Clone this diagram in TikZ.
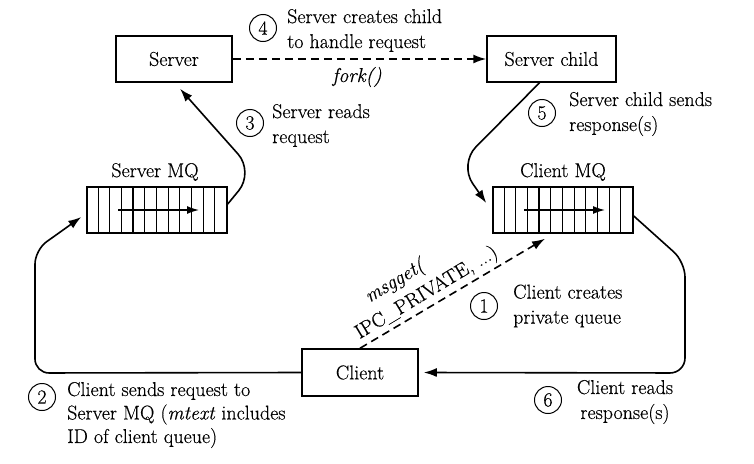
\documentclass[tikz,border=0pt]{standalone}
\usepackage{fontspec}
\setmainfont{Latin Modern Roman}[FakeBold=0.35]
\usetikzlibrary{arrows.meta,calc}
\begin{document}
\begin{tikzpicture}[x=1pt,y=-1pt,
  every node/.style={font=\fontsize{20}{25}\selectfont},
  box/.style={draw,line width=1.5pt,minimum height=46pt,inner sep=0pt},
  num/.style={draw,circle,line width=1pt,minimum size=27pt,inner sep=0pt},
  lbl/.style={align=left,anchor=west,inner sep=0pt},
  conn/.style={line width=1.6pt,-{Latex[length=13pt,width=9pt]}},
  dconn/.style={conn,dash pattern=on 8pt off 5pt},
  qbox/.style={draw,line width=1.5pt,minimum width=140pt,minimum height=46pt,inner sep=0pt},
  cell/.style={line width=0.7pt},
  qarrow/.style={line width=1.4pt,-{Latex[length=12pt,width=8pt]}},
]
\useasboundingbox (0,0) rectangle (754,463);

% boxes
\node[box,minimum width=116pt] (server) at (174,59) {Server};
\node[box,minimum width=129pt] (child) at (551.5,59) {Server child};
\node[box,minimum width=116pt,minimum height=47pt] (client) at (360,372.5) {Client};

% queues
\node[qbox] (smq) at (157,210) {};
\node[qbox] (cmq) at (563,210) {};
\foreach \q in {smq,cmq}{
  \foreach \i in {1,...,11}{
    \draw[cell] ($(\q.north west)+(\i*140/12,0)$) -- ($(\q.south west)+(\i*140/12,0)$);
  }
  \draw[line width=1.4pt] ($(\q.north west)+(4*140/12,0)$) -- ($(\q.south west)+(4*140/12,0)$);
  \draw[qarrow] ($(\q.center)+(-39,0)$) -- ($(\q.center)+(42,0)$);
}
\node (smql) at (155,172) {Server MQ};
\node (cmql) at (563,172) {Client MQ};

% connectors
\draw[dconn] (server.east) -- (child.west);
\node (fork) at (357,77) {\textit{fork()}};

\draw[conn,rounded corners=24pt] ($(smq.east)+(0,-6)$) -- (254,172) -- ($(server.south)+(6,6)$);
\draw[conn,rounded corners=24pt] ($(child.south)+(-12,0)$) -- (459,164) -- ($(cmq.west)+(-6,-7)$);
\draw[dconn] (client.north) -- ($(cmq.south)+(-18,5)$);
\draw[conn,rounded corners=14pt] (client.west) -- (35,373) -- (35,250) -- ($(smq.west)+(-5,7)$);
\draw[conn,rounded corners=15pt] ($(cmq.east)+(0,6)$) -- (685,262) -- (685,373) -- ($(client.east)+(5,0)$);

\node[rotate=31,inner sep=0pt,align=left,font=\fontsize{20}{26}\selectfont] (ipc) at (420,282)
  {\hspace*{27pt}\textit{msgget(}\\IPC\_PRIVATE, ...)};

% step labels
\node[num] (n4) at (263,28) {4};
\node[lbl] (t4) at (287,30.5) {Server creates child\\to handle request};
\node[num] (n3) at (250,123) {3};
\node[lbl] (t3) at (272,125.5) {Server reads\\request};
\node[num] (n5) at (542,113) {5};
\node[lbl] (t5) at (569,114) {Server child sends\\response(s)};
\node[num] (n1) at (484,306) {1};
\node[lbl] (t1) at (513,306) {Client creates\\private queue};
\node[num] (n2) at (42,397) {2};
\node[lbl,font=\fontsize{20}{23.5}\selectfont] (t2) at (67,415) {Client sends request to\\Server MQ (\textit{mtext} includes\\ID of client queue)};
\node[num] (n6) at (548,400) {6};
\node[align=center,inner sep=0pt] (t6) at (625,402) {Client reads\\response(s)};
\end{tikzpicture}
\end{document}
